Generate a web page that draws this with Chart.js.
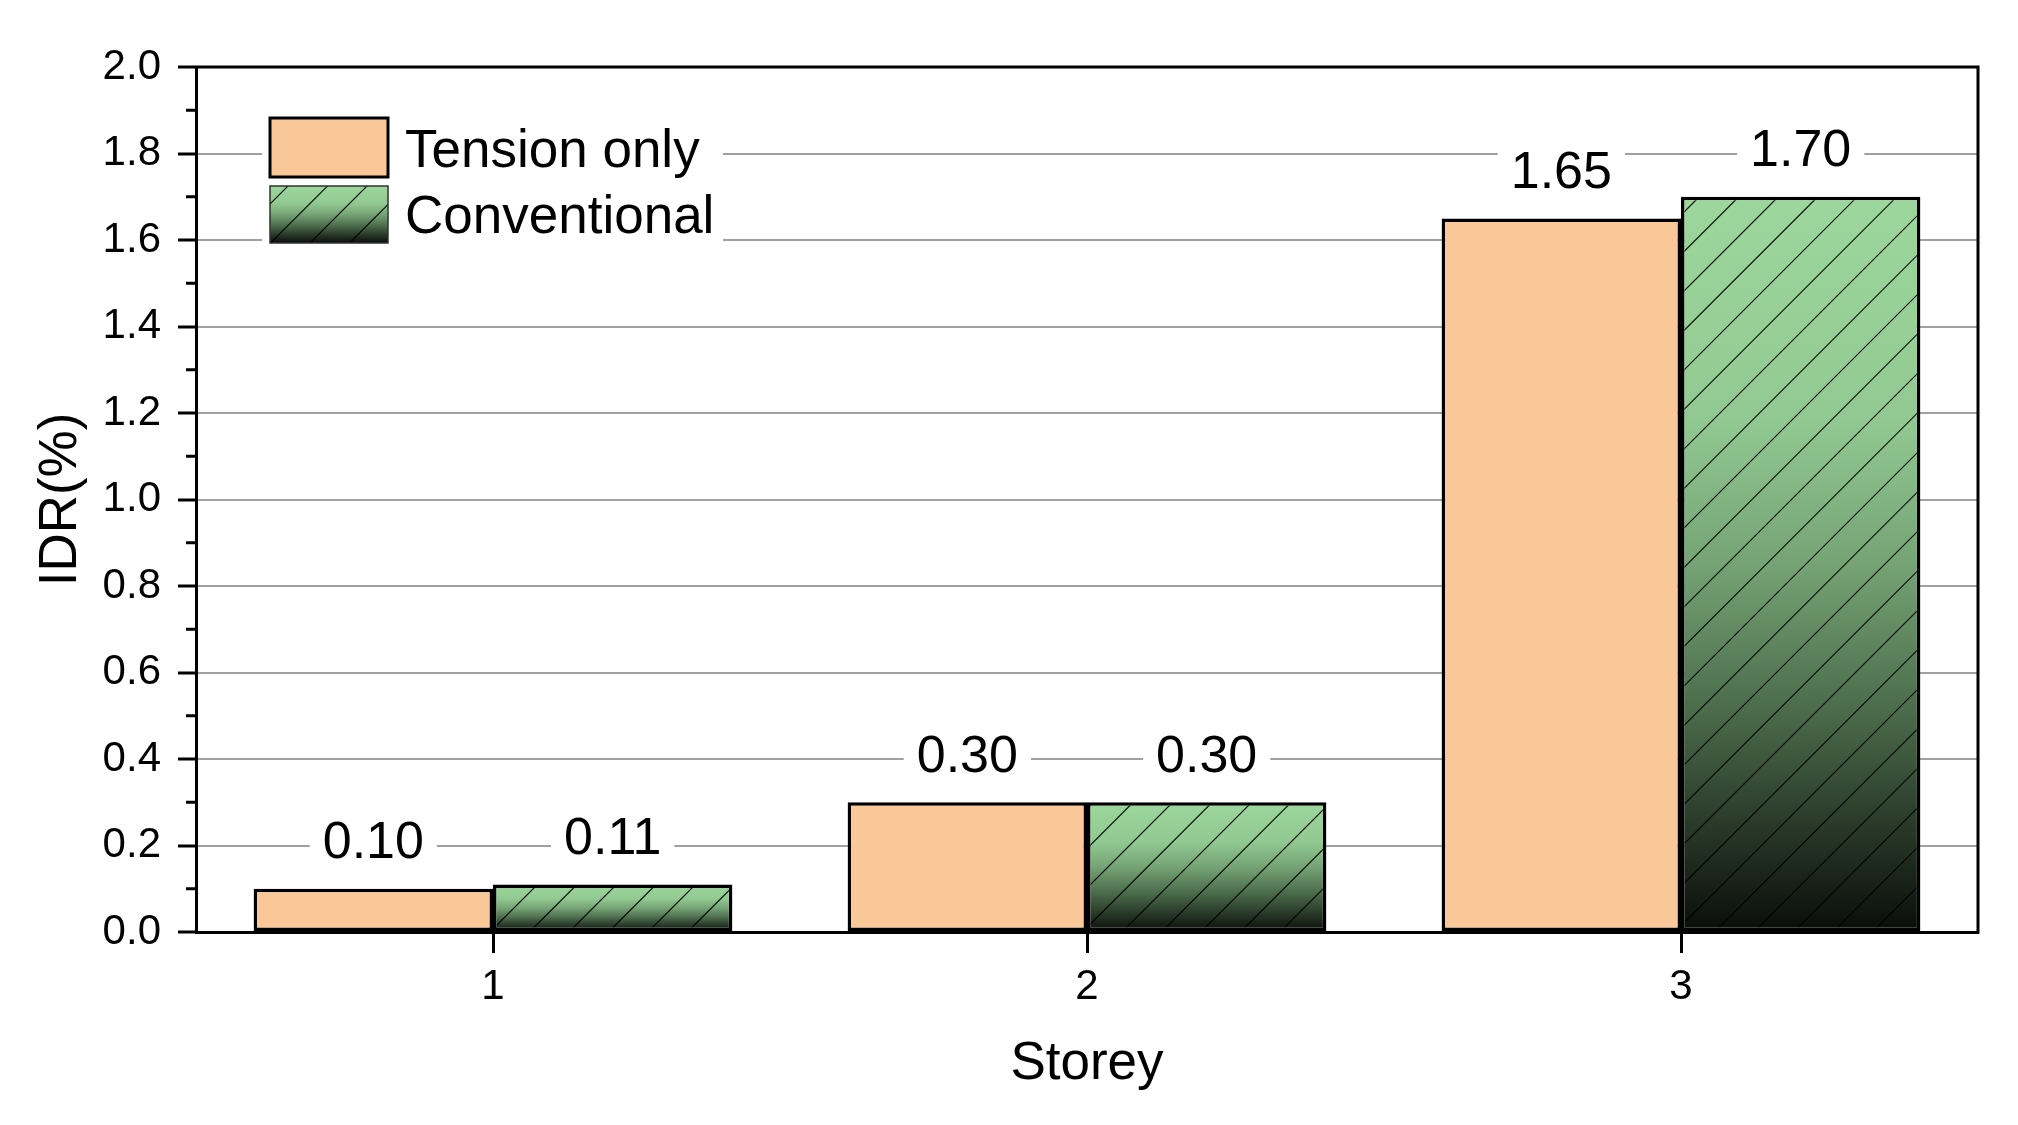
<!DOCTYPE html>
<html>
<head>
<meta charset="utf-8">
<script src="https://cdn.jsdelivr.net/npm/chart.js@4.4.0/dist/chart.umd.min.js"></script>
<style>
html,body{margin:0;padding:0;background:#fff;}
#wrap{width:2018px;height:1125px;position:relative;}
</style>
</head>
<body>
<div id="wrap"><canvas id="c" width="2018" height="1125"></canvas></div>
<script>
// ---- data ----
const categories = ['1', '2', '3'];
const seriesNames = ['Tension only', 'Conventional'];
const tensionOnly = [0.10, 0.30, 1.65];
const conventional = [0.11, 0.30, 1.70];
const yMin = 0, yMax = 2.0, yStep = 0.2;
const minorTicks = [0.1, 0.3, 0.5, 0.7, 0.9, 1.1, 1.3, 1.5, 1.7, 1.9];
const xTitle = 'Storey';
const yTitle = 'IDR(%)';

// ---- styles ----
const FONT = "'Liberation Sans', Arial, sans-serif";
const peach = '#FAC898';
const gradStops = [[0, '#9DD79D'], [0.3, '#92C992'], [0.5, '#75A375'], [0.7, '#4B6B4B'], [0.85, '#2A3B2A'], [1, '#0A0D0A']];

function hatchPattern(chart, top, bottom) {
  const off = document.createElement('canvas');
  off.width = chart.width; off.height = chart.height;
  const o = off.getContext('2d');
  const g = o.createLinearGradient(0, top, 0, bottom);
  gradStops.forEach(s => g.addColorStop(s[0], s[1]));
  o.fillStyle = g;
  o.fillRect(0, 0, off.width, off.height);
  o.strokeStyle = 'rgba(0,0,0,0.9)';
  o.lineWidth = 1.2;
  o.beginPath();
  const H = off.height, sp = 39.5;
  for (let c = -H; c < off.width + H; c += sp) {
    o.moveTo(c, H); o.lineTo(c + H, 0);
  }
  o.stroke();
  return chart.ctx.createPattern(off, 'no-repeat');
}
const patCache = {};
function convFill(ctx) {
  const chart = ctx.chart;
  if (!chart.chartArea || ctx.type !== 'data') return '#9DD79D';
  const ys = chart.scales.y;
  const top = ys.getPixelForValue(ctx.raw), bot = ys.getPixelForValue(0);
  const key = ctx.dataIndex + ':' + Math.round(top) + ':' + Math.round(bot);
  if (!patCache[key]) patCache[key] = hatchPattern(chart, top, bot);
  return patCache[key];
}

const decorPlugin = {
  id: 'decor',
  afterDatasetsDraw(chart) {
    const {ctx, chartArea: a} = chart;
    const ys = chart.scales.y;
    ctx.save();
    // minor ticks
    ctx.strokeStyle = '#000'; ctx.lineWidth = 3;
    minorTicks.forEach(v => {
      const y = ys.getPixelForValue(v);
      ctx.beginPath(); ctx.moveTo(a.left - 10, y); ctx.lineTo(a.left, y); ctx.stroke();
    });
    // frame top/right
    ctx.beginPath();
    ctx.moveTo(a.left - 1.5, a.top); ctx.lineTo(a.right, a.top); ctx.lineTo(a.right, a.bottom + 1.5);
    ctx.stroke();
    // data labels
    ctx.font = '52px ' + FONT;
    ctx.textAlign = 'center';
    ctx.textBaseline = 'alphabetic';
    chart.data.datasets.forEach((ds, di) => {
      const meta = chart.getDatasetMeta(di);
      meta.data.forEach((el, i) => {
        const txt = ds.data[i].toFixed(2);
        const cy = el.y - 49;
        const w = ctx.measureText(txt).width;
        ctx.fillStyle = '#fff';
        ctx.fillRect(el.x - w / 2 - 13, cy - 26, w + 26, 52);
        ctx.fillStyle = '#000';
        ctx.fillText(txt, el.x, cy + 52 * 0.358);
      });
    });
    // legend
    const lx = a.left + 66, ly = a.top + 33;
    ctx.fillStyle = '#fff';
    ctx.fillRect(lx, ly, 461, 150);
    const sx = a.left + 74, sw = 118;
    const rows = [[a.top + 51, a.top + 110], [a.top + 119, a.top + 176]];
    ctx.fillStyle = peach;
    ctx.fillRect(sx, rows[0][0], sw, rows[0][1] - rows[0][0]);
    ctx.lineWidth = 3; ctx.strokeStyle = '#000';
    ctx.strokeRect(sx, rows[0][0], sw, rows[0][1] - rows[0][0]);
    ctx.fillStyle = hatchPattern(chart, rows[1][0], rows[1][1]);
    ctx.fillRect(sx, rows[1][0], sw, rows[1][1] - rows[1][0]);
    ctx.lineWidth = 1.5; ctx.strokeStyle = '#333';
    ctx.strokeRect(sx, rows[1][0], sw, rows[1][1] - rows[1][0]);
    ctx.fillStyle = '#000';
    ctx.font = '53px ' + FONT;
    ctx.textAlign = 'left';
    ctx.fillText(seriesNames[0], a.left + 209, a.top + 100);
    ctx.fillText(seriesNames[1], a.left + 209, a.top + 166);
    ctx.restore();
  }
};

Chart.defaults.font.family = FONT;
Chart.defaults.color = '#000';

new Chart(document.getElementById('c'), {
  type: 'bar',
  data: {
    labels: categories,
    datasets: [
      { label: seriesNames[0], data: tensionOnly, backgroundColor: peach, borderColor: '#000', borderWidth: 3.5, borderSkipped: false },
      { label: seriesNames[1], data: conventional, backgroundColor: convFill, borderColor: '#000', borderWidth: 3.5, borderSkipped: false }
    ]
  },
  options: {
    responsive: false,
    animation: false,
    devicePixelRatio: 1,
    layout: { padding: { top: 67, right: 40, left: 0, bottom: 0 } },
    datasets: { bar: { categoryPercentage: 0.806, barPercentage: 1.0 } },
    plugins: { legend: { display: false }, tooltip: { enabled: false } },
    scales: {
      x: {
        offset: true,
        grid: { offset: false, drawOnChartArea: false, drawTicks: true, tickLength: 21, tickColor: '#000', tickWidth: 3 },
        border: { display: true, color: '#000', width: 3 },
        ticks: { font: { size: 42 }, padding: 9, color: '#000' },
        title: { display: true, text: xTitle, font: { size: 53 }, padding: { top: 0, bottom: 29 } },
        afterFit: s => { s.height = 193; }
      },
      y: {
        min: yMin, max: yMax,
        grid: {
          color: c => (c.tick && (Math.abs(c.tick.value) < 1e-9 || Math.abs(c.tick.value - yMax) < 1e-9)) ? 'rgba(0,0,0,0)' : '#A0A0A0',
          lineWidth: 2, tickLength: 18, tickColor: '#000', tickWidth: 3
        },
        border: { display: true, color: '#000', width: 3 },
        ticks: { stepSize: yStep, font: { size: 42 }, padding: 17, color: '#000', callback: v => Number(v).toFixed(1) },
        title: { display: true, text: yTitle, font: { size: 53 }, padding: { top: 30, bottom: 0 } },
        afterFit: s => { s.width = 196; }
      }
    }
  },
  plugins: [decorPlugin]
});
</script>
</body>
</html>
